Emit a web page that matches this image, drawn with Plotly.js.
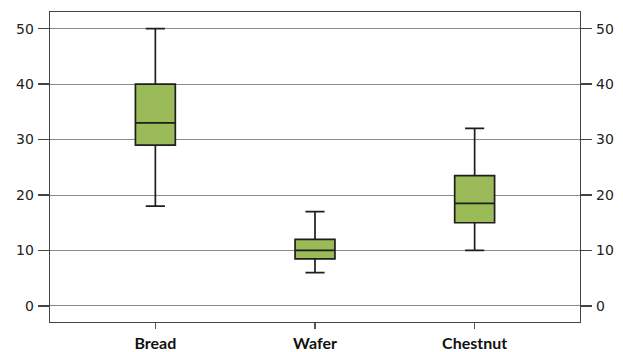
<!DOCTYPE html>
<html><head><meta charset="utf-8">
<script src="https://cdn.plot.ly/plotly-3.0.1.min.js"></script>
<style>html,body{margin:0;padding:0;background:#fff}#chart{width:623px;height:352px}</style>
</head><body><div id="chart"></div>
<script>
const categories = ["Bread", "Wafer", "Chestnut"];
const lowerWhisker = [18, 6, 10];
const q1 = [29, 8.5, 15];
const median = [33, 10, 18.5];
const q3 = [40, 12, 23.5];
const upperWhisker = [50, 17, 32];
const yTicks = [0, 10, 20, 30, 40, 50];

const trace = {
  type: "box",
  x: categories,
  lowerfence: lowerWhisker,
  q1: q1,
  median: median,
  q3: q3,
  upperfence: upperWhisker,
  fillcolor: "#9BBB59",
  line: {color: "#1e1e1e", width: 1.7},
  width: 0.25,
  whiskerwidth: 0.48,
  boxpoints: false,
  hoverinfo: "skip",
  showlegend: false
};
const ghost = {type: "scatter", x: [categories[0]], y: [yTicks[0]], yaxis: "y2", mode: "markers", marker: {opacity: 0}, showlegend: false, hoverinfo: "skip"};

const tickFont = {family: "DejaVu Sans, Verdana, sans-serif", size: 14, color: "#222"};
const layout = {
  width: 623, height: 352,
  margin: {l: 50, r: 43, t: 12, b: 30},
  paper_bgcolor: "#fff", plot_bgcolor: "#fff",
  showlegend: false,
  xaxis: {
    type: "category", range: [-0.66, 2.66],
    showline: true, linecolor: "#444", linewidth: 1.3, mirror: true,
    ticks: "outside", ticklen: 6, tickcolor: "#555", tickwidth: 1.3,
    showgrid: false, zeroline: false, ticklabelstandoff: 0,
    tickfont: {family: "Lato, Open Sans, sans-serif", size: 16, color: "#111", weight: "bold"}
  },
  yaxis: {
    range: [-2.9, 53], tickvals: yTicks,
    showline: true, linecolor: "#444", linewidth: 1.3,
    ticks: "outside", ticklen: 11, tickcolor: "#444", tickwidth: 1.3,
    showgrid: true, gridcolor: "#8a8a8a", gridwidth: 1, zeroline: false,
    tickfont: tickFont, ticklabelstandoff: 1
  },
  yaxis2: {
    overlaying: "y", side: "right", range: [-2.9, 53], tickvals: yTicks,
    showline: true, linecolor: "#444", linewidth: 1.3,
    ticks: "outside", ticklen: 11, tickcolor: "#444", tickwidth: 1.3,
    showgrid: false, zeroline: false, tickfont: tickFont, ticklabelstandoff: 1
  }
};
Plotly.newPlot("chart", [trace, ghost], layout, {staticPlot: true, displayModeBar: false});
</script></body></html>
